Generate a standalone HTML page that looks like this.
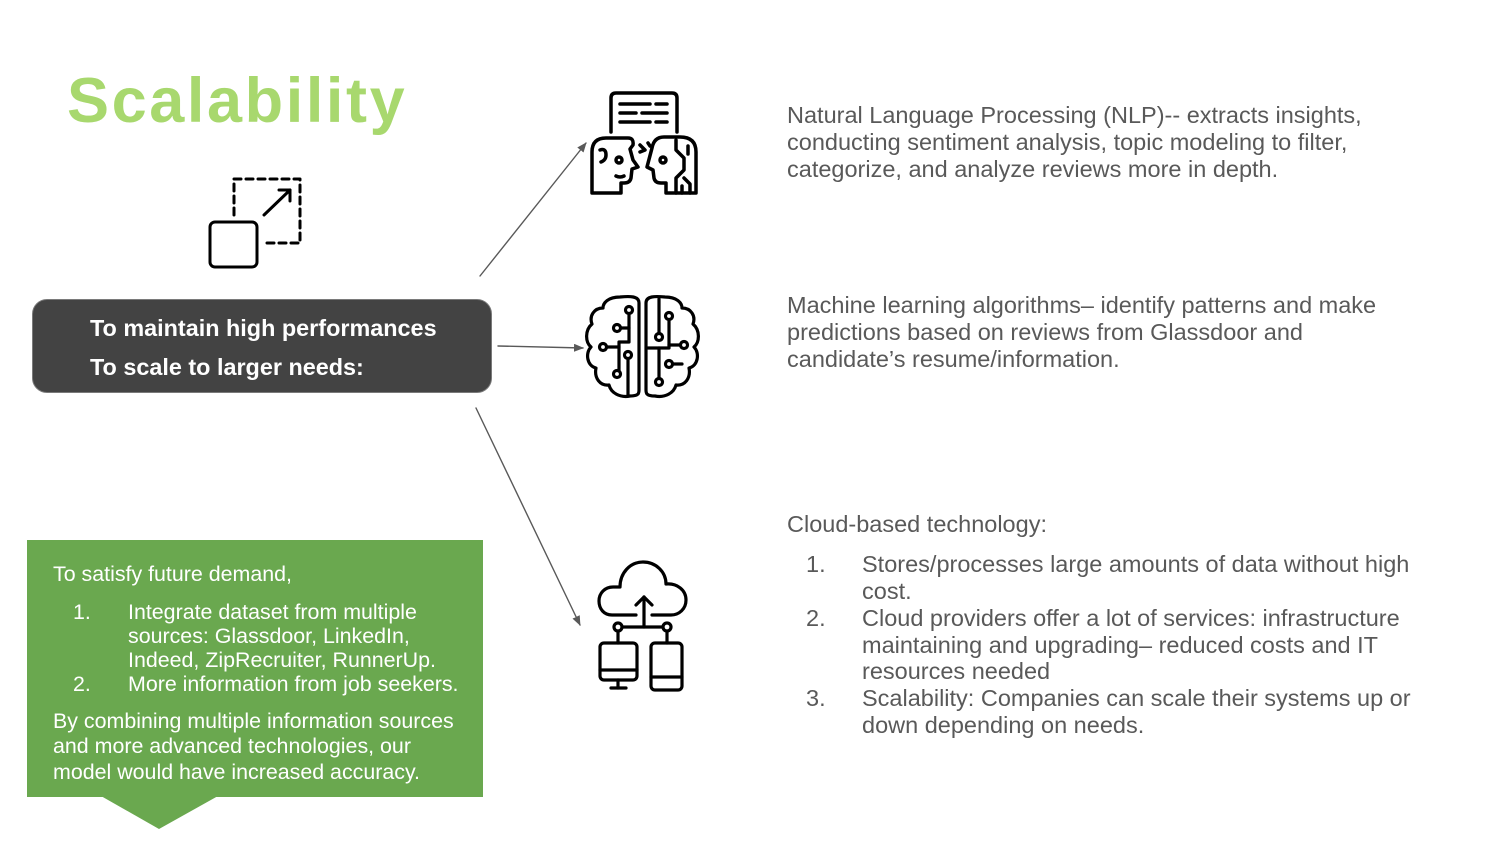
<!DOCTYPE html>
<html>
<head>
<meta charset="utf-8">
<style>
  html,body{margin:0;padding:0;}
  body{width:1500px;height:844px;position:relative;background:#fff;overflow:hidden;font-family:"Liberation Sans",Arial,sans-serif;}
  .abs{position:absolute;white-space:nowrap;}
  .title{left:67px;top:70px;font-size:63px;line-height:62px;font-weight:bold;color:#a8d86e;letter-spacing:2.6px;}
  .dark{left:32px;top:299px;width:460px;height:94px;background:#434343;border:1px solid #7a7a7a;border-radius:15px;box-sizing:border-box;}
  .dtext{font-size:23.4px;line-height:30px;font-weight:bold;color:#fff;left:90px;}
  .green{left:27px;top:540px;width:456px;height:257px;background:#6aa84f;}
  .gt{color:#fff;font-size:21.4px;}
  .rt{color:#595959;font-size:23.5px;}
</style>
</head>
<body>

<div class="abs title">Scalability</div>

<div class="abs dark"></div>
<div class="abs dtext" style="top:313px;">To maintain high performances</div>
<div class="abs dtext" style="top:352px;">To scale to larger needs:</div>

<div class="abs green"></div>
<svg class="abs" style="left:0;top:0;" width="1500" height="844">
  <polygon points="101,796 218,796 159,829" fill="#6aa84f"/>
</svg>

<div class="abs gt" style="left:53px;top:562px;line-height:24px;">To satisfy future demand,</div>
<div class="abs gt" style="left:73px;top:599.5px;line-height:24.3px;">1.<br><br><br>2.</div>
<div class="abs gt" style="left:128px;top:599.5px;line-height:24.3px;">Integrate dataset from multiple<br>sources: Glassdoor, LinkedIn,<br>Indeed, ZipRecruiter, RunnerUp.<br>More information from job seekers.</div>
<div class="abs gt" style="left:53px;top:708.5px;line-height:25.5px;">By combining multiple information sources<br>and more advanced technologies, our<br>model would have increased accuracy.</div>

<div class="abs rt" style="left:787px;top:102px;line-height:27px;">Natural Language Processing (NLP)-- extracts insights,<br>conducting sentiment analysis, topic modeling to filter,<br>categorize, and analyze reviews more in depth.</div>
<div class="abs rt" style="left:787px;top:292px;line-height:27px;">Machine learning algorithms– identify patterns and make<br>predictions based on reviews from Glassdoor and<br>candidate’s resume/information.</div>
<div class="abs rt" style="left:787px;top:511px;line-height:27px;">Cloud-based technology:</div>
<div class="abs rt" style="left:806px;top:551px;line-height:26.85px;">1.<br><br>2.<br><br><br>3.</div>
<div class="abs rt" style="left:862px;top:551px;line-height:26.85px;">Stores/processes large amounts of data without high<br>cost.<br>Cloud providers offer a lot of services: infrastructure<br>maintaining and upgrading– reduced costs and IT<br>resources needed<br>Scalability: Companies can scale their systems up or<br>down depending on needs.</div>

<svg class="abs" style="left:0;top:0;" width="1500" height="844" fill="none" stroke-linecap="round" stroke-linejoin="round">
  <defs>
    <marker id="ah" markerWidth="10" markerHeight="8" refX="9" refY="4" orient="auto" markerUnits="userSpaceOnUse">
      <path d="M0,0 L10,4 L0,8 Z" fill="#595959" stroke="none"/>
    </marker>
    <path id="hemi" d="M639 303 C639 296 630 296 620 297 C608 297 603 303 603 308 C594 308 589 316 592 324 C585 330 585 342 591 347 C585 353 587 366 596 368 C594 378 600 386 609 385 C611 393 620 398 630 396 C639 396 639 393 639 390 Z"/>
  </defs>

  <!-- connectors -->
  <line x1="480" y1="276" x2="586" y2="143" stroke="#595959" stroke-width="1.4" marker-end="url(#ah)"/>
  <line x1="498" y1="346" x2="583" y2="348" stroke="#595959" stroke-width="1.4" marker-end="url(#ah)"/>
  <line x1="476" y1="408" x2="580" y2="625" stroke="#595959" stroke-width="1.4" marker-end="url(#ah)"/>

  <!-- scale icon -->
  <g stroke="#000" stroke-width="3">
    <rect x="210" y="222" width="47" height="45" rx="5"/>
    <path d="M234 215 L234 179 L300 179 L300 243 L263 243" stroke-dasharray="7,5"/>
    <line x1="264" y1="215" x2="290" y2="190"/>
    <polyline points="279,190 290,190 290,201"/>
  </g>

  <!-- NLP icon -->
  <g stroke="#000" stroke-width="3.5">
    <path d="M611 132 L611 98 Q611 93 616 93 L672 93 Q677 93 677 98 L677 132"/>
    <line x1="620" y1="104" x2="650" y2="104"/><line x1="656" y1="104" x2="667" y2="104"/>
    <line x1="620" y1="113" x2="636" y2="113"/><line x1="642" y1="113" x2="667" y2="113"/>
    <line x1="620" y1="122" x2="650" y2="122"/><line x1="656" y1="122" x2="667" y2="122"/>
    <!-- left head -->
    <path d="M592 193 L592 152 Q592 138 606 138 L628 138 Q634 138 633 145 L630 149 L633 160 L638 167 L632 169 L631 178 Q630 183 624 183 L621 183 L621 193 Z"/>
    <path d="M600 150 Q606 148 606 155 Q606 160 601 162"/>
    <circle cx="619" cy="160" r="3"/>
    <path d="M616 176 Q620 178 624 176"/>
    <!-- right head -->
    <path d="M696 193 L696 152 Q696 137 680 137 L664 137 Q654 137 652 148 L647 167 L653 170 L654 178 Q655 183 661 183 L666 183 L666 193 Z"/>
    <circle cx="663" cy="160" r="3"/>
    <path d="M676 140 L676 150 L684 158 L684 170 L676 178 L676 193"/>
    <path d="M688 146 L688 154 M684 178 L690 184 L690 193 M682 186 L682 193"/>
    <!-- small arrows -->
    <path d="M640 145 L645 150 L640 152 M648 143 L650 146"/>
  </g>

  <!-- brain icon -->
  <g stroke="#000" stroke-width="3.2">
    <use href="#hemi"/>
    <use href="#hemi" transform="translate(1285,0) scale(-1,1)"/>
    <!-- left circuits -->
    <circle cx="629" cy="310" r="3.5"/>
    <polyline points="629,314 629,342 619,342 619,370"/>
    <circle cx="617" cy="374" r="3.5"/>
    <circle cx="617" cy="328" r="3.5"/>
    <line x1="621" y1="328" x2="629" y2="328"/>
    <circle cx="603" cy="347" r="3.5"/>
    <line x1="607" y1="347" x2="619" y2="347"/>
    <circle cx="628" cy="355" r="3.5"/>
    <line x1="628" y1="359" x2="628" y2="395"/>
    <!-- right circuits -->
    <line x1="659" y1="299" x2="659" y2="333"/>
    <circle cx="659" cy="337" r="3.5"/>
    <circle cx="669" cy="316" r="3.5"/>
    <polyline points="669,320 669,348 648,348"/>
    <circle cx="684" cy="345" r="3.5"/>
    <line x1="669" y1="345" x2="680" y2="345"/>
    <line x1="659" y1="348" x2="659" y2="378"/>
    <circle cx="659" cy="382" r="3.5"/>
    <circle cx="669" cy="364" r="3.5"/>
    <line x1="673" y1="364" x2="682" y2="364"/>
  </g>

  <!-- cloud icon -->
  <g stroke="#000" stroke-width="3.2">
    <path d="M636 615 L612 615 C604 615 599 609 599 601 C599 593 605 587 613 587 L620 587 C620 573 630 562 643 562 C656 562 666 572 666 584 C677 583 686 590 686 600 C686 609 679 615 671 615 L652 615"/>
    <line x1="644" y1="627" x2="644" y2="597"/>
    <polyline points="636,605 644,597 652,605"/>
    <line x1="622" y1="627" x2="663" y2="627"/>
    <circle cx="618" cy="627" r="4"/>
    <circle cx="667" cy="627" r="4"/>
    <line x1="618" y1="631" x2="618" y2="643"/>
    <line x1="667" y1="631" x2="667" y2="643"/>
    <rect x="600" y="643" width="37" height="37" rx="4"/>
    <line x1="600" y1="670" x2="637" y2="670"/>
    <line x1="618" y1="680" x2="618" y2="688"/>
    <line x1="611" y1="688" x2="626" y2="688"/>
    <rect x="651" y="643" width="31" height="47" rx="4"/>
    <line x1="651" y1="677" x2="682" y2="677"/>
  </g>
</svg>

</body>
</html>
